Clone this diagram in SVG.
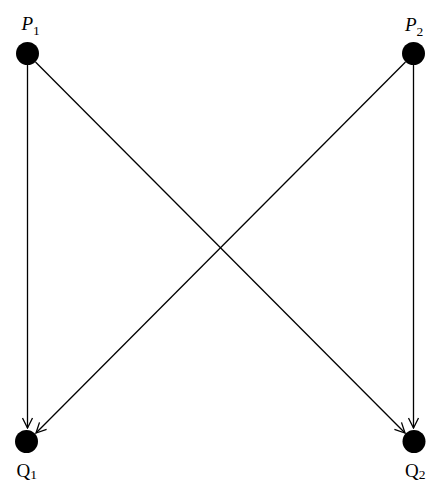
<svg xmlns="http://www.w3.org/2000/svg" width="442" height="500" viewBox="0 0 442 500">
<style>
.node{fill:#000}
.lbl{font-family:"Liberation Serif",serif;font-size:19px;fill:#000}
.it{font-style:italic}
.sub{font-size:13.5px}
.edge{stroke:#000;stroke-width:1.3;fill:none}
</style>
<defs>
<marker id="arr" viewBox="0 0 12 12" refX="11" refY="6" markerWidth="12" markerHeight="12" markerUnits="userSpaceOnUse" orient="auto">
<path d="M1,1 L11,6 L1,11" fill="none" stroke="#000" stroke-width="1.3"/>
</marker>
</defs>
<g id="connectors">
<line class="edge" x1="27.5" y1="65" x2="27.5" y2="428" marker-end="url(#arr)"/>
<line class="edge" x1="413.5" y1="65" x2="413.5" y2="428" marker-end="url(#arr)"/>
<line class="edge" x1="35.5" y1="62" x2="405" y2="433" marker-end="url(#arr)"/>
<line class="edge" x1="405.5" y1="62" x2="36" y2="433" marker-end="url(#arr)"/>
</g>
<g id="P1">
<circle class="node" cx="27.5" cy="53.5" r="11.5"/>
<text class="lbl" x="21.5" y="30"><tspan class="it">P</tspan><tspan class="sub" dy="5">1</tspan></text>
</g>
<g id="P2">
<circle class="node" cx="413.5" cy="53.5" r="11.5"/>
<text class="lbl" x="405" y="30.5"><tspan class="it">P</tspan><tspan class="sub" dy="5">2</tspan></text>
</g>
<g id="Q1">
<circle class="node" cx="26.5" cy="441.5" r="11.5"/>
<text class="lbl" x="16.5" y="476.5">Q<tspan class="sub" dy="2">1</tspan></text>
</g>
<g id="Q2">
<circle class="node" cx="414" cy="441.5" r="11.5"/>
<text class="lbl" x="405" y="477">Q<tspan class="sub" dy="2">2</tspan></text>
</g>
</svg>
